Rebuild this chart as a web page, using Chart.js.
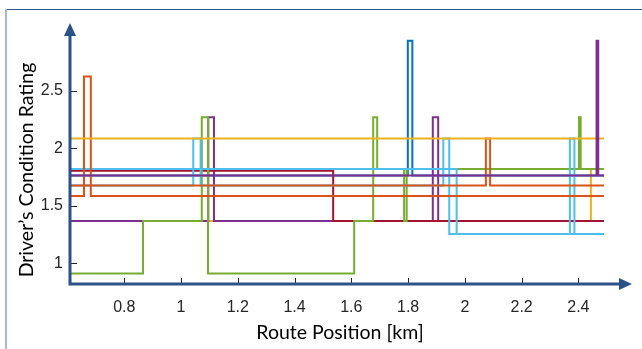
<!DOCTYPE html>
<html>
<head>
<meta charset="utf-8">
<script src="https://cdn.jsdelivr.net/npm/chart.js@4.4.1/dist/chart.umd.min.js"></script>
<style>
html, body { margin: 0; padding: 0; background: #fff; }
</style>
</head>
<body>
<canvas id="chartCanvas" width="642" height="349"></canvas>
<script>
// route limits and tick labels
const routeStart = 0.609;
const routeEnd = 2.49;
const xTicks = [0.8, 1, 1.2, 1.4, 1.6, 1.8, 2, 2.2, 2.4];
const yTicks = [1, 1.5, 2, 2.5];

// each pair: [route position km, rating from that point on]
const yellowLow = [[routeStart, 1.368], [2.444, 1.819], [routeEnd, 1.819]];
const blueRun = [[routeStart, 1.763], [1.799, 2.934], [1.815, 1.763], [routeEnd, 1.763]];
const purpleLow = [[routeStart, 1.368], [1.096, 2.268], [1.116, 1.368], [1.887, 2.268], [1.906, 1.368], [routeEnd, 1.368]];
const maroonRun = [[routeStart, 1.805], [1.536, 1.368], [routeEnd, 1.368]];
const greenRun = [[routeStart, 0.911], [0.866, 1.368], [1.073, 2.268], [1.095, 0.911], [1.610, 1.368], [1.677, 2.268],
                  [1.691, 1.819], [1.786, 1.368], [1.795, 1.819], [2.402, 2.268], [2.408, 1.819], [routeEnd, 1.819]];
const lightBlueA = [[routeStart, 1.676], [1.043, 2.085], [1.069, 1.676], [1.924, 2.085], [1.945, 1.255],
                    [2.370, 2.085], [2.386, 1.255], [routeEnd, 1.255]];
const lightBlueB = [[routeStart, 1.819], [1.971, 1.255], [routeEnd, 1.255]];
const orangeMid = [[routeStart, 1.676], [2.074, 2.085], [2.089, 1.676], [routeEnd, 1.676]];
const orangeLow = [[routeStart, 1.585], [0.658, 2.623], [0.682, 1.585], [routeEnd, 1.585]];
const yellowTop = [[routeStart, 2.085], [routeEnd, 2.085]];
const purpleRun = [[routeStart, 1.763], [2.464, 2.934], [2.470, 1.763], [routeEnd, 1.763]];

// drawn bottom to top
const runs = [
    [yellowLow, '#EDB120'],
    [blueRun, '#0072BD'],
    [purpleLow, '#7E2F8E'],
    [maroonRun, '#A2142F'],
    [greenRun, '#77AC30'],
    [lightBlueA, '#4DBEEE'],
    [lightBlueB, '#4DBEEE'],
    [orangeMid, '#D95319'],
    [orangeLow, '#D95319'],
    [yellowTop, '#EDB120'],
    [purpleRun, '#7E2F8E']
];

const axisBlue = '#2b5287';
const tickFont = {family: 'Liberation Sans', size: 16};
const titleFont = {family: 'Lato', size: 19.5};

// arrows, inward ticks and the slide frame
const axisArrows = {
    id: 'axisArrows',
    beforeDraw(chart){
        const ctx = chart.ctx;
        ctx.save();
        ctx.fillStyle = '#2e5386';
        ctx.fillRect(5, 9, 637, 1);
        ctx.fillStyle = '#a9bad0';
        ctx.fillRect(5, 9, 2, 340);
        ctx.restore();
    },
    afterDatasetsDraw(chart){
        const {ctx, chartArea, scales} = chart;
        const left = chartArea.left, bottom = chartArea.bottom;
        const topTip = chartArea.top - 32, rightTip = chartArea.right + 22;
        ctx.save();
        // tick marks point inward like matlab
        ctx.strokeStyle = '#262626';
        ctx.lineWidth = 1;
        ctx.beginPath();
        xTicks.forEach(v => {
            const px = Math.round(scales.x.getPixelForValue(v)) + 0.5;
            ctx.moveTo(px, bottom - 1);
            ctx.lineTo(px, bottom - 7);
        });
        yTicks.forEach(v => {
            const py = Math.round(scales.y.getPixelForValue(v)) + 0.5;
            ctx.moveTo(left, py);
            ctx.lineTo(left + 7, py);
        });
        ctx.stroke();

        ctx.strokeStyle = axisBlue;
        ctx.fillStyle = axisBlue;
        ctx.lineWidth = 3;
        ctx.beginPath();
        ctx.moveTo(left, bottom);
        ctx.lineTo(left, topTip + 10);
        ctx.moveTo(left - 1.5, bottom - 1);
        ctx.lineTo(rightTip - 10, bottom - 1);
        ctx.stroke();

        ctx.beginPath();
        ctx.moveTo(left, topTip);
        ctx.lineTo(left + 6, topTip + 13);
        ctx.lineTo(left - 6, topTip + 13);
        ctx.closePath();
        ctx.fill();

        ctx.beginPath();
        ctx.moveTo(rightTip, bottom - 1);
        ctx.lineTo(rightTip - 13, bottom - 7);
        ctx.lineTo(rightTip - 13, bottom + 5);
        ctx.closePath();
        ctx.fill();
        ctx.restore();
    }
};

new Chart(document.getElementById('chartCanvas'), {
    type: 'line',
    data: {
        datasets: runs.map(([pts, color], i) => ({
            data: pts.map(p => ({x: p[0], y: p[1]})),
            borderColor: color,
            backgroundColor: color,
            borderWidth: 2,
            pointRadius: 0,
            stepped: 'before',
            clip: false,
            order: runs.length - i
        }))
    },
    options: {
        responsive: false,
        animation: false,
        devicePixelRatio: 1,
        layout: {padding: {top: 55, right: 32, left: 0, bottom: 0}},
        plugins: {legend: {display: false}, tooltip: {enabled: false}},
        scales: {
            x: {
                type: 'linear',
                min: 0.6087,
                max: 2.5114,
                grid: {display: false, drawTicks: false},
                border: {display: false},
                afterBuildTicks: s => { s.ticks = xTicks.map(v => ({value: v})); },
                afterFit: s => { s.height = 64; },
                ticks: {font: tickFont, color: '#262626', padding: 13, maxRotation: 0, autoSkip: false,
                        callback: v => String(v)},
                title: {display: true, text: 'Route Position [km]', font: titleFont, color: '#000',
                        padding: {top: 0, bottom: 5}}
            },
            y: {
                min: 0.8115,
                max: 2.8097,
                grid: {display: false, drawTicks: false},
                border: {display: false},
                afterBuildTicks: s => { s.ticks = yTicks.map(v => ({value: v})); },
                afterFit: s => { s.width = 70; },
                ticks: {font: tickFont, color: '#262626', padding: 7, callback: v => String(v)},
                title: {display: true, text: 'Driver\u2019s Condition Rating', font: titleFont, color: '#000',
                        padding: {top: 15, bottom: 0}}
            }
        }
    },
    plugins: [axisArrows]
});
</script>
</body>
</html>
